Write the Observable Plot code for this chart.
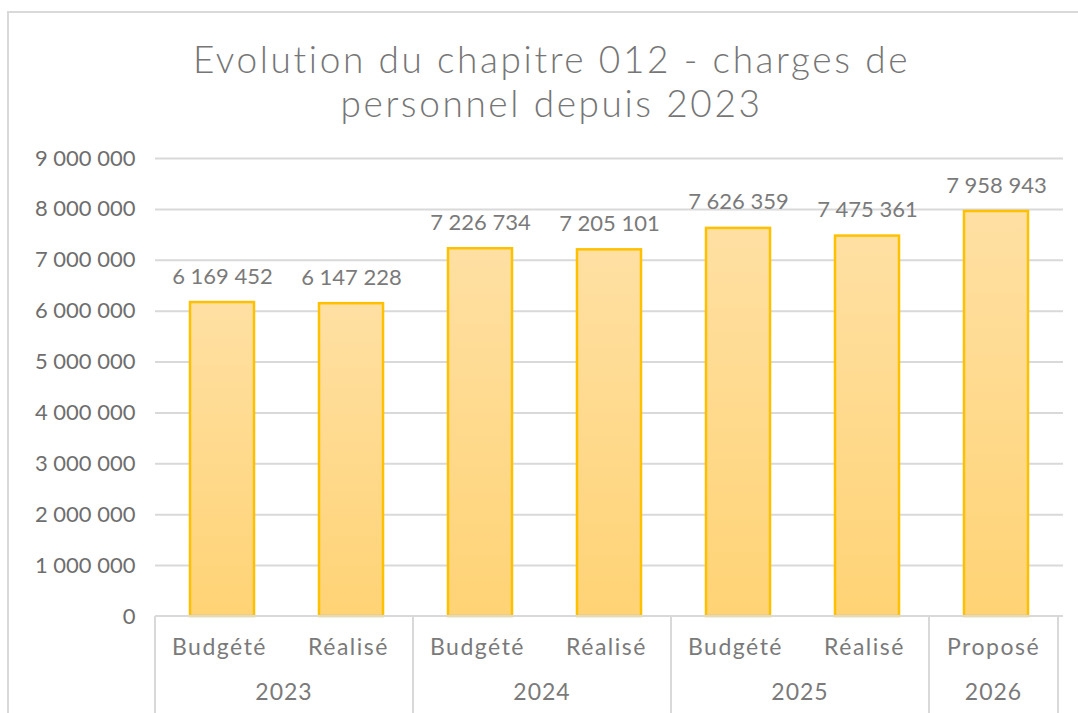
<!DOCTYPE html>
<html>
<head>
<meta charset="utf-8">
<script src="https://cdn.jsdelivr.net/npm/d3@7"></script>
<script src="https://cdn.jsdelivr.net/npm/@observablehq/plot@0.6"></script>
<style>
  html, body { margin: 0; padding: 0; background: #fff; width: 1078px; height: 713px; overflow: hidden; position: relative; font-family: Lato, "Open Sans", sans-serif; }
  #frame { position: absolute; left: 7px; top: 11px; width: 1100px; height: 760px; border: 2px solid #d9d9d9; box-sizing: border-box; }
  #title { position: absolute; left: 0; top: 37px; width: 1103px; text-align: center; font-size: 37px; line-height: 44px; color: #767676; font-weight: 300; letter-spacing: 2.6px; }
  #chart { position: absolute; left: 0; top: 140px; }
</style>
</head>
<body>
<div id="frame"></div>
<div id="title">Evolution du chapitre 012 - charges de<br>personnel depuis 2023</div>
<div id="chart"></div>
<script>
const years = ["2023", "2023", "2024", "2024", "2025", "2025", "2026"];
const categories = ["Budgété", "Réalisé", "Budgété", "Réalisé", "Budgété", "Réalisé", "Proposé"];
const values = [6169452, 6147228, 7226734, 7205101, 7626359, 7475361, 7958943];
const yTicks = [0, 1000000, 2000000, 3000000, 4000000, 5000000, 6000000, 7000000, 8000000, 9000000];

const data = values.map((v, i) => ({key: years[i] + "|" + categories[i], year: years[i], cat: categories[i], value: v}));
const keys = data.map(d => d.key);
const fmt = v => d3.format(",")(v).replace(/,/g, " ");

const W = 1078, H = 573;
const mL = 155, mR = 15, mT = 18, mB = 97;

const axisMark = (index, scales, vals, dims) => {
  const x = scales.x;
  const step = x(keys[1]) - x(keys[0]);
  const g = d3.create("svg:g");
  const yb = dims.height - dims.marginBottom;
  const groups = d3.groups(data, d => d.year);
  const stroke = "#d9d9d9";
  g.append("line").attr("x1", dims.marginLeft).attr("x2", dims.width - dims.marginRight)
    .attr("y1", yb).attr("y2", yb).attr("stroke", stroke).attr("stroke-width", 2);
  const bounds = [];
  let start = dims.marginLeft;
  groups.forEach(([yr, items]) => {
    const n = items.length;
    const x0 = start, x1 = start + n * step;
    bounds.push(x0);
    items.forEach((d, j) => {
      g.append("text").attr("x", x0 + (j + 0.5) * step).attr("y", yb + 39)
        .attr("text-anchor", "middle").attr("fill", "#7a7a7a").attr("font-size", 23)
        .attr("letter-spacing", "1.5px").text(d.cat);
    });
    g.append("text").attr("x", (x0 + x1) / 2).attr("y", yb + 84)
      .attr("text-anchor", "middle").attr("fill", "#7a7a7a").attr("font-size", 23)
      .attr("letter-spacing", "1px").text(yr);
    start = x1;
  });
  bounds.push(start);
  bounds.forEach(bx => g.append("line").attr("x1", bx).attr("x2", bx).attr("y1", yb).attr("y2", dims.height)
    .attr("stroke", stroke).attr("stroke-width", 2));
  return g.node();
};

const chart = Plot.plot({
  width: W, height: H,
  marginLeft: mL, marginRight: mR, marginTop: mT, marginBottom: mB,
  style: {fontFamily: "Lato, 'Open Sans', sans-serif", background: "transparent", overflow: "visible"},
  x: {type: "band", domain: keys, paddingInner: 0.505, paddingOuter: 0.2525, axis: null},
  y: {domain: [0, 9000000], ticks: yTicks, tickFormat: fmt, label: null},
  marks: [
    () => {
      const defs = d3.create("svg:defs");
      const lg = defs.append("linearGradient").attr("id", "barGrad").attr("x1", 0).attr("x2", 0).attr("y1", 0).attr("y2", 1);
      lg.append("stop").attr("offset", "0%").attr("stop-color", "#ffe0a3");
      lg.append("stop").attr("offset", "100%").attr("stop-color", "#ffd375");
      return defs.node();
    },
    Plot.gridY(yTicks.slice(1), {stroke: "#d9d9d9", strokeOpacity: 1, strokeWidth: 2}),
    Plot.axisY({ticks: yTicks, tickFormat: fmt, tickSize: 0, tickPadding: 20, fontSize: 22, fill: "#6e6e6e", label: null, style: {letterSpacing: "0.9px"}}),
    Plot.barY(data, {x: "key", y: "value", fill: "url(#barGrad)", stroke: "#ffc000", strokeWidth: 2.5}),
    Plot.text(data, {x: "key", y: "value", text: d => fmt(d.value), dy: -26, fontSize: 22, fill: "#7a7a7a", style: {letterSpacing: "0.8px"}}),
    axisMark
  ]
});
document.getElementById("chart").appendChild(chart);
</script>
</body>
</html>
